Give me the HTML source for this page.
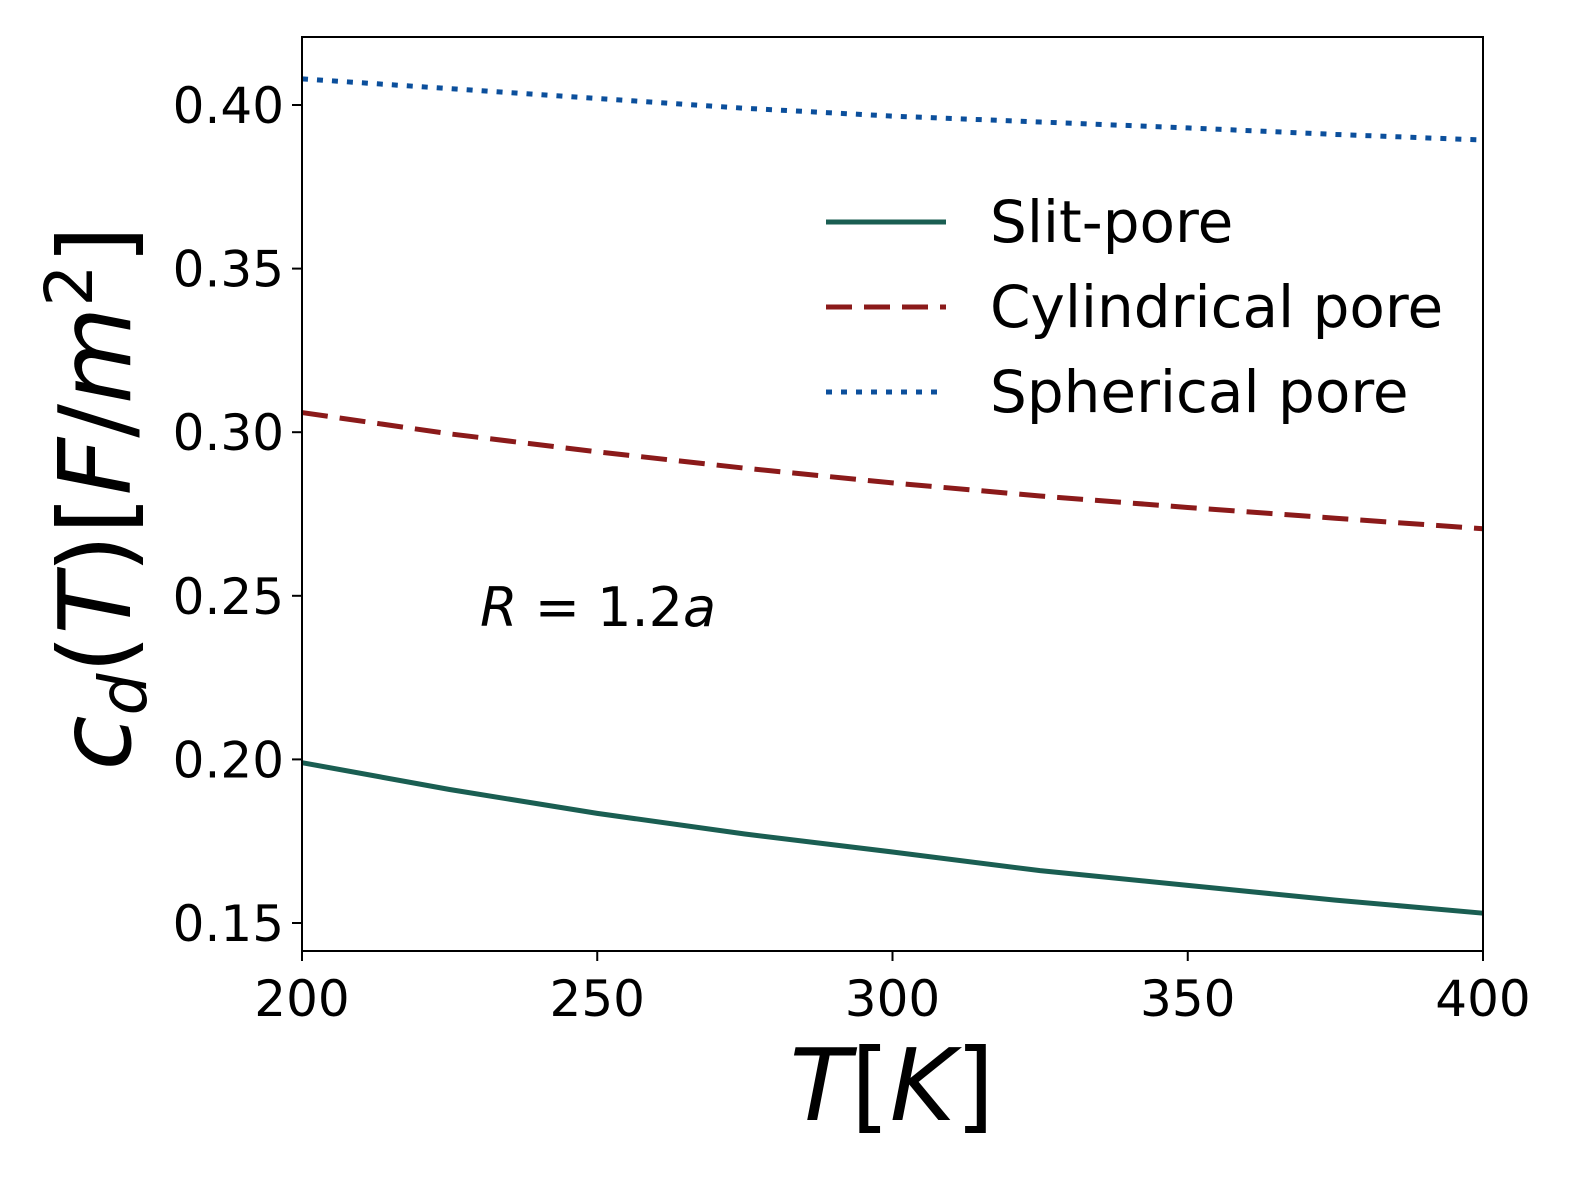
<!DOCTYPE html>
<html><head><meta charset="utf-8"><style>
html,body{margin:0;background:#fff;overflow:hidden;}
svg{display:block;}
svg text{font-family:"DejaVu Sans","Liberation Sans",sans-serif;}
</style></head><body>
<svg width="1577" height="1183" viewBox="0 0 1577 1183" xmlns="http://www.w3.org/2000/svg">
<g id="plot"></g>
</svg>
<script>
const temps=[200,225,250,275,300,325,350,375,400];
const slit=[0.199,0.1908,0.1835,0.1772,0.1717,0.166,0.1615,0.157,0.153];
const cyl=[0.306,0.2995,0.294,0.289,0.2845,0.2805,0.277,0.2737,0.2705];
const sph=[0.408,0.405,0.402,0.399,0.3966,0.3948,0.393,0.391,0.3893];
const xTicks=[200,250,300,350,400];
const yTicks=[0.15,0.20,0.25,0.30,0.35,0.40];
const L=302,R=1483,T=37,B=951;
const sx=v=>L+(v-200)/200*(R-L);
const sy=v=>105+(0.40-v)/0.05*163.6;
const NS="http://www.w3.org/2000/svg";
const g=document.getElementById('plot');
function mk(tag,attrs,parent){const e=document.createElementNS(NS,tag);for(const k in attrs)e.setAttribute(k,attrs[k]);(parent||g).appendChild(e);return e;}
function path(vals){return temps.map((t,i)=>(i?'L':'M')+sx(t)+','+sy(vals[i])).join(' ');}
const series=[[slit,'#1a5e52','none','slit-pore-line'],[cyl,'#8b1a1a','26,12','cylindrical-pore-line'],[sph,'#0b4f9c','6,9','spherical-pore-line']];
series.forEach(s=>{const p=mk('path',{d:path(s[0]),fill:'none',stroke:s[1],'stroke-width':5,'stroke-dasharray':s[2]});

});
const fr=mk('rect',{x:L,y:T,width:R-L,height:B-T,fill:'none',stroke:'#000','stroke-width':2});


xTicks.forEach(t=>{mk('line',{x1:sx(t),x2:sx(t),y1:B,y2:B+10,stroke:'#000','stroke-width':2});
const tx=mk('text',{x:sx(t),y:B+65,'font-size':50,'text-anchor':'middle'});tx.textContent=t;

});
yTicks.forEach(t=>{mk('line',{x1:L-10,x2:L,y1:sy(t),y2:sy(t),stroke:'#000','stroke-width':2});
const tx=mk('text',{x:L-18,y:sy(t)+18,'font-size':50,'text-anchor':'end'});tx.textContent=t.toFixed(2);

});
const xl=mk('text',{x:892,y:1120,'font-size':100,'text-anchor':'middle'});
xl.innerHTML='<tspan font-style="italic">T</tspan>[<tspan font-style="italic">K</tspan>]';


const yl=mk('text',{x:0,y:0,'font-size':100,'text-anchor':'middle',transform:'translate(130,498) rotate(-90)'});
yl.innerHTML='<tspan font-style="italic">c</tspan><tspan font-size="66" dy="16" font-style="italic">d</tspan><tspan dy="-16">(</tspan><tspan font-style="italic">T</tspan>)[<tspan font-style="italic">F</tspan>/<tspan font-style="italic">m</tspan><tspan font-size="66" dy="-38">2</tspan><tspan dy="38">]</tspan>';


const an=mk('text',{x:480,y:626,'font-size':54});
an.innerHTML='<tspan font-style="italic">R</tspan> = 1.2<tspan font-style="italic">a</tspan>';


const leg=[['Slit-pore',series[0]],['Cylindrical pore',series[1]],['Spherical pore',series[2]]];
leg.forEach((l,i)=>{const y=222+i*85;
const ln=mk('line',{x1:826,x2:946,y1:y,y2:y,stroke:l[1][1],'stroke-width':5,'stroke-dasharray':l[1][2]});


const tx=mk('text',{x:990,y:y+20,'font-size':58});tx.textContent=l[0];

});
</script>
</body></html>
